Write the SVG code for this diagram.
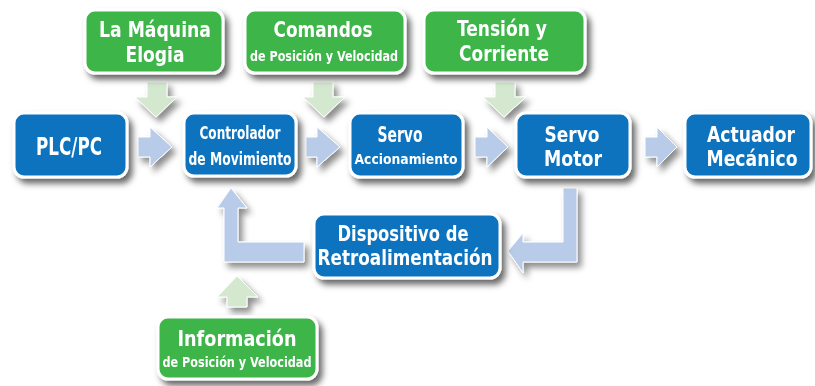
<svg xmlns="http://www.w3.org/2000/svg" width="815" height="386" viewBox="0 0 815 386">
<defs>
<filter id="sh" x="-20%" y="-20%" width="150%" height="160%">
<feDropShadow dx="4" dy="5" stdDeviation="3" flood-color="#000" flood-opacity="0.6"/>
</filter>
<filter id="sha" x="-30%" y="-30%" width="170%" height="170%">
<feDropShadow dx="4" dy="5" stdDeviation="3" flood-color="#000" flood-opacity="0.45"/>
</filter>
</defs>
<style>
.b{fill:#0a73be;stroke:#fff;stroke-width:3}
.g{fill:#3cb54a;stroke:#fff;stroke-width:3}
.ab{fill:#b8cce9;stroke:#fff;stroke-width:1}
.ag{fill:#d4e8cf;stroke:#fff;stroke-width:1}
text{font-family:"DejaVu Sans Condensed","Liberation Sans",sans-serif;font-stretch:condensed;font-weight:bold;fill:#fff;text-anchor:middle}
.x{font-size:25px}
.l{font-size:22px}
.m{font-size:17px}
.s{font-size:14px}
</style>
<rect width="815" height="386" fill="#fff"/>
<g id="connectors" filter="url(#sha)">
<path class="ag" d="M147,82 H167 V97 H177 L156,117 L135,97 H147 Z"/>
<path class="ag" d="M313,82 H333 V97 H345 L324,117 L303,97 H313 Z"/>
<path class="ag" d="M495,82 H515 V97 H526 L504,117 L483,97 H495 Z"/>
<path class="ab" d="M138,137 H150 V127 L172,147 L150,167 V157 H138 Z"/>
<path class="ab" d="M306,137 H317 V127 L340,147 L317,167 V157 H306 Z"/>
<path class="ab" d="M475,137 H487 V127 L508,147 L487,167 V157 H475 Z"/>
<path class="ab" d="M645,137 H657 V127 L677,147 L657,167 V157 H645 Z"/>
<path class="ab" d="M563,188 H577 V262 H523 V273 L508,251 L523,233 V242 H563 Z"/>
<path class="ab" d="M304,242 V262 H224 V208 H217 L231,188 L247,208 H238 V242 Z"/>
<path class="ag" d="M227,307 H247 V297 H258 L237,276 L217,297 H227 Z"/>
</g>
<g id="plc" filter="url(#sh)"><rect class="b" x="14" y="113" width="113" height="64" rx="10"/><text class="x" x="69" y="155" textLength="66" lengthAdjust="spacingAndGlyphs">PLC/PC</text></g>
<g id="controlador" filter="url(#sh)"><rect class="b" x="184" y="113" width="112" height="63" rx="10"/><text class="m" x="240" y="139" textLength="81" lengthAdjust="spacingAndGlyphs">Controlador</text><text class="m" x="240" y="165" textLength="103" lengthAdjust="spacingAndGlyphs">de Movimiento</text></g>
<g id="servo-acc" filter="url(#sh)"><rect class="b" x="350" y="113" width="113" height="64" rx="10"/><text class="l" x="400" y="142" textLength="45" lengthAdjust="spacingAndGlyphs">Servo</text><text class="s" x="406" y="164" textLength="103" lengthAdjust="spacingAndGlyphs">Accionamiento</text></g>
<g id="servo-motor" filter="url(#sh)"><rect class="b" x="516" y="113" width="114" height="64" rx="10"/><text class="l" x="572" y="142" textLength="55" lengthAdjust="spacingAndGlyphs">Servo</text><text class="l" x="573" y="166" textLength="58" lengthAdjust="spacingAndGlyphs">Motor</text></g>
<g id="actuador" filter="url(#sh)"><rect class="b" x="685" y="113" width="126" height="64" rx="10"/><text class="l" x="751" y="142" textLength="88" lengthAdjust="spacingAndGlyphs">Actuador</text><text class="l" x="752" y="166" textLength="91" lengthAdjust="spacingAndGlyphs">Mecánico</text></g>
<g id="maquina" filter="url(#sh)"><rect class="g" x="85" y="10" width="138" height="63" rx="10"/><text class="l" x="155" y="37" textLength="112" lengthAdjust="spacingAndGlyphs">La Máquina</text><text class="l" x="155" y="62" textLength="59" lengthAdjust="spacingAndGlyphs">Elogia</text></g>
<g id="comandos" filter="url(#sh)"><rect class="g" x="245" y="10" width="160" height="63" rx="10"/><text class="l" x="323" y="37" textLength="99" lengthAdjust="spacingAndGlyphs">Comandos</text><text class="s" x="324" y="61" textLength="148" lengthAdjust="spacingAndGlyphs">de Posición y Velocidad</text></g>
<g id="tension" filter="url(#sh)"><rect class="g" x="424" y="10" width="161" height="63" rx="10"/><text class="l" x="502" y="36" textLength="90" lengthAdjust="spacingAndGlyphs">Tensión y</text><text class="l" x="504" y="61" textLength="90" lengthAdjust="spacingAndGlyphs">Corriente</text></g>
<g id="dispositivo" filter="url(#sh)"><rect class="b" x="314" y="214" width="186" height="64" rx="10"/><text class="l" x="403" y="241" textLength="131" lengthAdjust="spacingAndGlyphs">Dispositivo de</text><text class="l" x="405" y="265" textLength="175" lengthAdjust="spacingAndGlyphs">Retroalimentación</text></g>
<g id="informacion" filter="url(#sh)"><rect class="g" x="158" y="317" width="159" height="62" rx="10"/><text class="l" x="237" y="346" textLength="119" lengthAdjust="spacingAndGlyphs">Información</text><text class="s" x="237" y="367" textLength="149" lengthAdjust="spacingAndGlyphs">de Posición y Velocidad</text></g>
</svg>
